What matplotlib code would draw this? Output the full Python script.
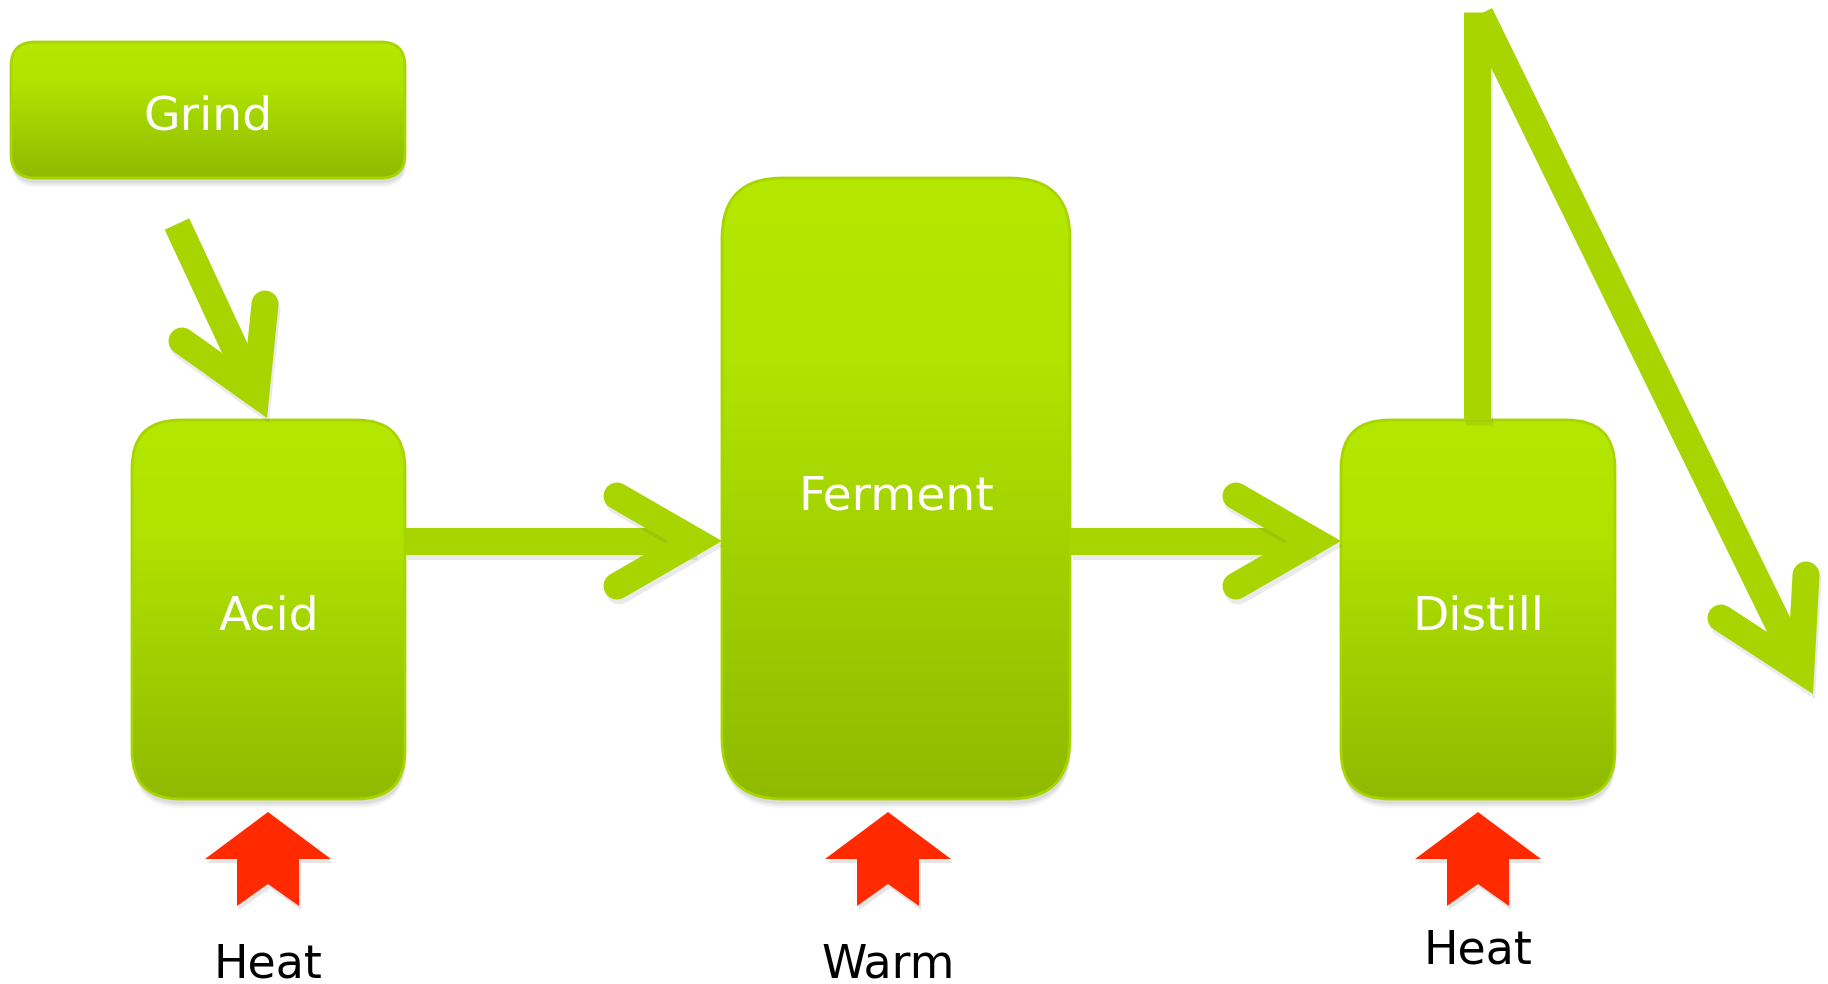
import numpy as np
import matplotlib
matplotlib.use('Agg')
import matplotlib.pyplot as plt
from matplotlib.patches import FancyBboxPatch, Polygon
from matplotlib.colors import LinearSegmentedColormap

# process steps (boxes): label, left, top, right, bottom, corner radius
step_labels = ['Grind', 'Acid', 'Ferment', 'Distill']
box_left = [11, 132, 722, 1341]
box_top = [42, 420, 178, 420]
box_right = [405, 405, 1070, 1615]
box_bottom = [178, 799, 799, 799]
box_radius = [24, 48, 60, 48]
label_base = [130, 629, 509, 629]

# heat inputs under the boxes
heat_labels = ['Heat', 'Warm', 'Heat']
heat_x = [268, 888, 1478]
heat_base = [977, 977, 963]

# green arrows: shaft start, tip, arm ends
arrow_start = [(177, 224), (405, 541), (1070, 541), (1480, 14)]
arrow_tip = [(267, 418), (722, 541), (1341, 541), (1813, 694)]
arrow_arm1 = [(182, 341), (617, 496), (1236, 496), (1721, 618)]
arrow_arm2 = [(265, 304), (617, 586), (1236, 586), (1806, 575)]
# vertical riser out of Distill
riser_x = 1477
riser_y = (420, 12)

green = '#a8d400'
red = '#ff2a00'
W = 27  # arrow thickness in px
px = 72 / 100.0

fig = plt.figure(figsize=(18.28, 9.84), dpi=100)
ax = fig.add_axes([0, 0, 1, 1])

cmap = LinearSegmentedColormap.from_list('g', [(0, '#b4e800'), (0.3, '#b0e300'), (1, '#8fba00')])
grad = np.linspace(0, 1, 256).reshape(-1, 1)

for i in range(len(step_labels)):
    x0, y0, x1, y1, r = box_left[i], box_top[i], box_right[i], box_bottom[i], box_radius[i]
    # soft shadow
    for k, a in [(9, 0.05), (7, 0.07), (5, 0.09)]:
        sh = FancyBboxPatch((x0 + 1, y0 + k), x1 - x0, y1 - y0,
                            boxstyle='round,pad=0,rounding_size=%d' % r,
                            fc='#555555', ec='none', alpha=a, zorder=1)
        ax.add_patch(sh)
    box = FancyBboxPatch((x0, y0), x1 - x0, y1 - y0,
                         boxstyle='round,pad=0,rounding_size=%d' % r,
                         fc='none', ec=green, lw=2, zorder=3)
    ax.add_patch(box)
    im = ax.imshow(grad, extent=(x0, x1, y1, y0), cmap=cmap, aspect='auto',
                   origin='upper', zorder=2)
    im.set_clip_path(box)
    ax.text((x0 + x1) / 2, label_base[i], step_labels[i], color='white',
            fontsize=34, ha='center', va='baseline', family='DejaVu Sans', zorder=6)


def head_vertex(tip, a, b, w):
    tip = np.array(tip, float)
    a = np.array(a, float)
    b = np.array(b, float)
    v = tip.copy() - 1
    for _ in range(40):
        ua = (a - v) / np.linalg.norm(a - v)
        ub = (b - v) / np.linalg.norm(b - v)
        bis = -(ua + ub) / np.linalg.norm(ua + ub)
        half = np.arccos(np.clip(ua @ ub, -1, 1)) / 2
        v = tip - bis * (w / 2) / np.sin(half)
    return v


def shadowed_line(xs, ys, **kw):
    ax.plot(np.array(xs) + 2, np.array(ys) + 5, color='#555555', alpha=0.12,
            lw=W * px, zorder=kw.get('zorder', 4) - 0.5,
            solid_capstyle=kw.get('solid_capstyle', 'butt'),
            solid_joinstyle='miter')
    ax.plot(xs, ys, color=green, lw=W * px, **kw)


# riser
shadowed_line([riser_x, riser_x], list(riser_y), solid_capstyle='butt', zorder=4)

for s, t, a1, a2 in zip(arrow_start, arrow_tip, arrow_arm1, arrow_arm2):
    v = head_vertex(t, a1, a2, W)
    shadowed_line([s[0], v[0]], [s[1], v[1]], solid_capstyle='butt', zorder=4)
    shadowed_line([a1[0], v[0], a2[0]], [a1[1], v[1], a2[1]],
                  solid_capstyle='round', solid_joinstyle='miter', zorder=5)

# red heat arrows
for hx, lab, hb in zip(heat_x, heat_labels, heat_base):
    pts = [(0, 812), (63, 859), (31, 859), (31, 906), (0, 884),
           (-31, 906), (-31, 859), (-63, 859)]
    ax.add_patch(Polygon([(hx + p[0] + 2, p[1] + 4) for p in pts], closed=True,
                         fc='#555555', ec='none', alpha=0.15, zorder=3))
    ax.add_patch(Polygon([(hx + p[0], p[1]) for p in pts], closed=True,
                         fc=red, ec='none', zorder=4))
    ax.text(hx, hb, lab, color='black', fontsize=33, ha='center', va='baseline',
            family='DejaVu Sans')

ax.set_xlim(0, 1828)
ax.set_ylim(984, 0)
ax.axis('off')
fig.savefig('out.png', dpi=100, facecolor='white')
